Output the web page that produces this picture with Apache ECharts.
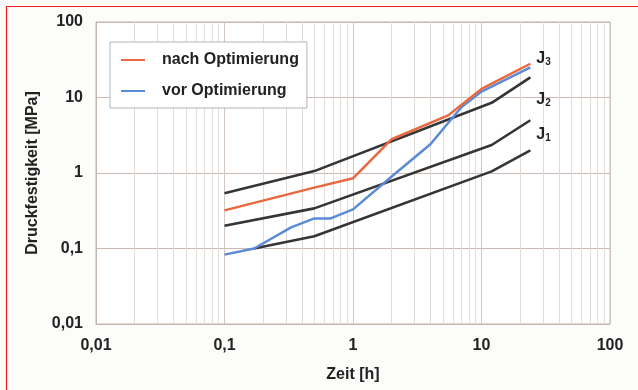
<!DOCTYPE html>
<html><head><meta charset="utf-8">
<script src="https://cdn.jsdelivr.net/npm/echarts@6/dist/echarts.min.js"></script>
<style>html,body{margin:0;padding:0;background:#fcfcfa}#c{width:638px;height:390px}</style>
</head><body><div id="c"></div>
<script>
// Tick labels (log axes, decades)
const xTickLabels = ['0,01','0,1','1','10','100'];
const yTickLabels = ['0,01','0,1','1','10','100'];

// nach Optimierung
const nachT = [0.1, 0.5, 1, 2, 5.5, 10, 24];
const nachV = [0.32, 0.64, 0.85, 2.8, 5.8, 13, 28];
// vor Optimierung
const vorT = [0.1, 0.17, 0.33, 0.5, 0.67, 1, 2, 4, 7, 10, 24];
const vorV = [0.083, 0.1, 0.19, 0.25, 0.25, 0.33, 0.9, 2.4, 7.5, 12, 25];
// Reference curves J3, J2, J1
const j3T = [0.1, 0.5, 12, 24];
const j3V = [0.54, 1.06, 8.5, 18.5];
const j2T = [0.1, 0.5, 12, 24];
const j2V = [0.2, 0.34, 2.35, 5.0];
const j1T = [0.17, 0.5, 12, 24];
const j1V = [0.1, 0.145, 1.05, 2.0];

const FONT = '"Liberation Sans", Arial, sans-serif';
const zip = (a, b) => a.map((v, i) => [v, b[i]]);
const fmt = v => String(v).replace('.', ',');

// minor vertical grid positions (2..9 per decade)
const minorX = [];
[0.01, 0.1, 1, 10].forEach(d => { for (let k = 2; k <= 9; k++) minorX.push(+(d * k).toPrecision(3)); });

const dark = '#353535';
function jSeries(name, t, v, sub, dy) {
  return {
    name, type: 'line', data: zip(t, v), symbol: 'none', z: 3,
    lineStyle: { color: dark, width: 2.6 }, itemStyle: { color: dark },
    endLabel: {
      show: true, distance: 6, offset: [0, dy],
      formatter: '{j|J}{s|' + sub + '}',
      rich: {
        j: { fontSize: 16, fontWeight: 'bold', fontFamily: FONT, color: '#222', lineHeight: 18 },
        s: { fontSize: 10, fontWeight: 'bold', fontFamily: FONT, color: '#222', lineHeight: 10, verticalAlign: 'bottom' }
      }
    }
  };
}

const chart = echarts.init(document.getElementById('c'), null, { renderer: 'canvas' });
chart.setOption({
  backgroundColor: '#fcfcfa',
  animation: false,
  textStyle: { fontFamily: FONT },
  graphic: [{
    type: 'rect', silent: true, z: 100,
    shape: { x: 6.5, y: 6.5, width: 800, height: 600 },
    style: { fill: 'none', stroke: '#ee1c25', lineWidth: 1.2 }
  }],
  grid: {
    left: 96, right: 28, top: 22, bottom: 66, show: true,
    backgroundColor: '#ffffff', borderColor: '#c2b7b0', borderWidth: 1
  },
  legend: {
    data: ['nach Optimierung', 'vor Optimierung'],
    orient: 'vertical', left: 110, top: 42, z: 20,
    itemWidth: 24, itemHeight: 14, itemGap: 15,
    itemStyle: { opacity: 0 },
    padding: [10, 8, 9, 10],
    backgroundColor: '#ffffff', borderColor: '#b4b4b4', borderWidth: 1,
    textStyle: { fontSize: 16, fontWeight: 'bold', color: '#222', fontFamily: FONT, padding: [0, 0, 0, 12] }
  },
  xAxis: {
    type: 'log', logBase: 10, min: 0.01, max: 100,
    name: 'Zeit [h]', nameLocation: 'middle', nameGap: 43,
    nameTextStyle: { fontSize: 16, fontWeight: 'bold', color: '#222', fontFamily: FONT },
    axisLine: { show: true, lineStyle: { color: '#c2b7b0' } },
    axisTick: { show: false },
    axisLabel: { fontSize: 16, fontWeight: 'bold', color: '#222', margin: 14,
      formatter: v => xTickLabels[Math.round(Math.log10(v)) + 2] ?? fmt(v) },
    splitLine: { show: true, lineStyle: { color: '#d2c8c2', width: 1 } }
  },
  yAxis: {
    type: 'log', logBase: 10, min: 0.01, max: 100,
    name: 'Druckfestigkeit [MPa]', nameLocation: 'middle', nameGap: 53,
    nameTextStyle: { fontSize: 16, fontWeight: 'bold', color: '#222', fontFamily: FONT },
    axisLine: { show: true, lineStyle: { color: '#c2b7b0' } },
    axisTick: { show: false },
    axisLabel: { fontSize: 16, fontWeight: 'bold', color: '#222', margin: 13,
      formatter: v => yTickLabels[Math.round(Math.log10(v)) + 2] ?? fmt(v) },
    splitLine: { show: true, lineStyle: { color: '#c9bbb3', width: 1 } }
  },
  series: [
    {
      name: 'minor', type: 'line', data: zip(j3T, j3V), symbol: 'none', silent: true, z: 1,
      lineStyle: { opacity: 0 }, tooltip: { show: false },
      markLine: {
        silent: true, symbol: ['none', 'none'], label: { show: false }, z: 1,
        lineStyle: { color: '#e0dcda', width: 1, type: 'solid' },
        data: minorX.map(v => ({ xAxis: v }))
      }
    },
    jSeries('J3', j3T, j3V, '3', -19),
    jSeries('J2', j2T, j2V, '2', -21),
    jSeries('J1', j1T, j1V, '1', -16),
    {
      name: 'vor Optimierung', type: 'line', data: zip(vorT, vorV), symbol: 'none', z: 4,
      lineStyle: { color: '#5b8bd4', width: 2.5 }, itemStyle: { color: '#5b8bd4' }
    },
    {
      name: 'nach Optimierung', type: 'line', data: zip(nachT, nachV), symbol: 'none', z: 5,
      lineStyle: { color: '#e8683f', width: 2.5 }, itemStyle: { color: '#e8683f' }
    }
  ]
});
</script></body></html>
